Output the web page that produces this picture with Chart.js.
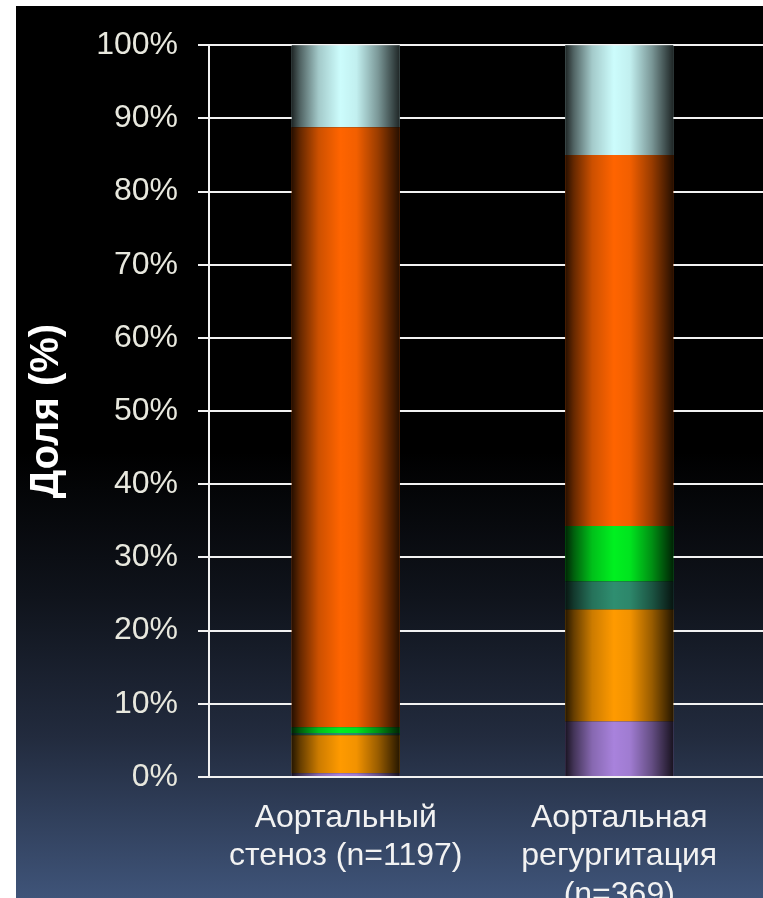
<!DOCTYPE html>
<html>
<head>
<meta charset="utf-8">
<script src="https://cdn.jsdelivr.net/npm/chart.js@4"></script>
<style>
  html, body { margin: 0; padding: 0; background: #fff; }
  #wrap {
    position: absolute; left: 16px; top: 6px; width: 747px; height: 892px;
    background: linear-gradient(to bottom, #000 0%, #000 50%, #0f131b 66%, #222b3e 82%, #3f5479 100%);
  }
</style>
</head>
<body>
<div id="wrap"><canvas id="valveChart"></canvas></div>
<script>
// categories
var labels = [
    ['Аортальный', 'стеноз (n=1197)'],
    ['Аортальная', 'регургитация', '(n=369)']
];

// stacked segments, bottom to top (% of patients)
var purpleVals = [0.5, 7.6];
var amberVals  = [5.2, 15.3];
var tealVals   = [0.3, 3.8];
var greenVals  = [0.8, 7.6];
var orangeVals = [82.0, 50.7];
var cyanVals   = [11.2, 15.0];

var yTicks = [0, 10, 20, 30, 40, 50, 60, 70, 80, 90, 100];

var gridColor = '#f2f2f2';
var fontFamily = "'Liberation Sans', Arial, sans-serif";

// dark edges on every bar so they look like cylinders
var cylinderPlugin = {
    id: 'cylinder',
    beforeDatasetsDraw: function (chart) {
        // grid lines run on to the right edge of the picture
        var ctx = chart.ctx, area = chart.chartArea, y = chart.scales.y;
        ctx.save();
        ctx.strokeStyle = gridColor;
        ctx.lineWidth = 2;
        y.ticks.forEach(function (t) {
            var py = Math.round(y.getPixelForValue(t.value));
            ctx.beginPath();
            ctx.moveTo(area.right - 1, py);
            ctx.lineTo(chart.width, py);
            ctx.stroke();
        });
        ctx.restore();
    },
    afterDatasetsDraw: function (chart) {
        var ctx = chart.ctx;
        labels.forEach(function (lbl, i) {
            var top = Infinity, bottom = -Infinity, x = 0, w = 0;
            chart.data.datasets.forEach(function (d, di) {
                var p = chart.getDatasetMeta(di).data[i].getProps(['x', 'y', 'base', 'width'], true);
                top = Math.min(top, p.y, p.base);
                bottom = Math.max(bottom, p.y, p.base);
                x = p.x; w = p.width;
            });
            var g = ctx.createLinearGradient(x - w / 2, 0, x + w / 2, 0);
            g.addColorStop(0, 'rgba(0,0,0,0.85)');
            g.addColorStop(0.08, 'rgba(0,0,0,0.6)');
            g.addColorStop(0.25, 'rgba(0,0,0,0.2)');
            g.addColorStop(0.45, 'rgba(0,0,0,0)');
            g.addColorStop(0.6, 'rgba(0,0,0,0.05)');
            g.addColorStop(0.8, 'rgba(0,0,0,0.4)');
            g.addColorStop(1, 'rgba(0,0,0,0.85)');
            ctx.save();
            ctx.fillStyle = g;
            ctx.fillRect(x - w / 2, top, w, bottom - top);
            ctx.restore();
        });
    }
};

function bar(label, data, color) {
    return { label: label, data: data, backgroundColor: color, borderWidth: 0 };
}

var ctx = document.getElementById('valveChart').getContext('2d');
new Chart(ctx, {
    type: 'bar',
    data: {
        labels: labels,
        datasets: [
            bar('purple', purpleVals, '#a882dc'),
            bar('amber', amberVals, '#ff9a00'),
            bar('teal', tealVals, '#2f8e70'),
            bar('green', greenVals, '#00f020'),
            bar('orange', orangeVals, '#ff6400'),
            bar('cyan', cyanVals, '#ccfcfc')
        ]
    },
    options: {
        responsive: true,
        maintainAspectRatio: false,
        animation: false,
        layout: { padding: { top: 37, right: 7, left: 0, bottom: 0 } },
        datasets: { bar: { categoryPercentage: 1, barPercentage: 0.395 } },
        plugins: { legend: { display: false }, tooltip: { enabled: false } },
        scales: {
            x: {
                stacked: true,
                grid: { display: false, drawTicks: false },
                border: { display: false },
                ticks: {
                    color: '#f2f2f2',
                    maxRotation: 0,
                    padding: 22,
                    font: { family: fontFamily, size: 32, lineHeight: 1.2 }
                },
                afterFit: function (scale) { scale.height = 121; }
            },
            y: {
                stacked: true,
                min: 0,
                max: 100,
                afterBuildTicks: function (scale) {
                    scale.ticks = yTicks.map(function (v) { return { value: v }; });
                },
                ticks: {
                    color: '#e8e8de',
                    padding: 20,
                    font: { family: fontFamily, size: 32 },
                    callback: function (v) { return v + '%'; }
                },
                grid: { color: gridColor, lineWidth: 2, tickLength: 11 },
                border: { display: true, color: gridColor, width: 2 },
                title: {
                    display: true,
                    text: 'Доля (%)',
                    color: '#ffffff',
                    padding: { top: 7, bottom: 0 },
                    font: { family: fontFamily, size: 40, weight: 'bold' }
                },
                afterFit: function (scale) { scale.width = 193; }
            }
        }
    },
    plugins: [cylinderPlugin]
});
</script>
</body>
</html>
